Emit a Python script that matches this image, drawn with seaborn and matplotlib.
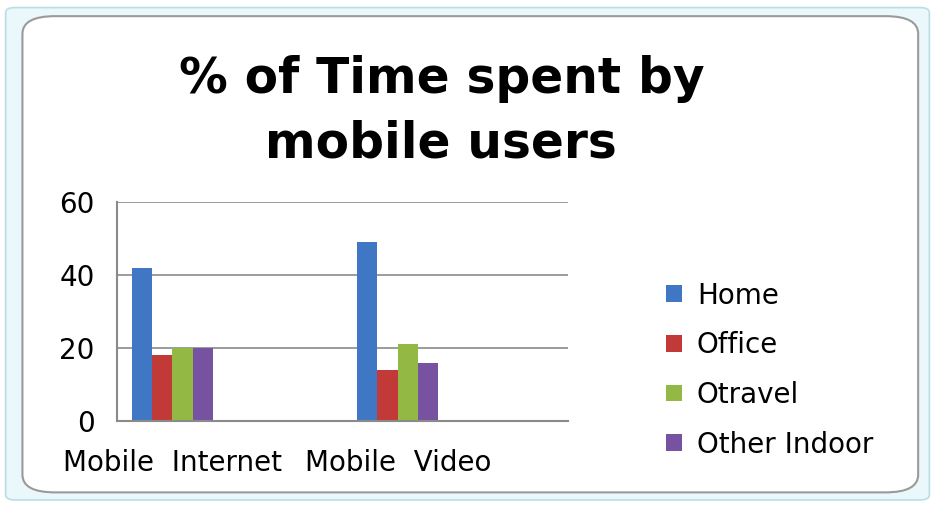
import matplotlib
matplotlib.use("Agg")
import matplotlib.pyplot as plt
import seaborn as sns
import pandas as pd
from matplotlib.patches import FancyBboxPatch

categories = ["Mobile  Internet", "Mobile  Video"]
series = ["Home", "Office", "Otravel", "Other Indoor"]
home = [42, 49]
office = [18, 14]
otravel = [20, 21]
other_indoor = [20, 16]
colors = ["#3f77c4", "#c23a37", "#93b944", "#7752a0"]
y_ticks = [0, 20, 40, 60]

rows = []
for s, vals in zip(series, [home, office, otravel, other_indoor]):
    for c, v in zip(categories, vals):
        rows.append({"Category": c, "Series": s, "Value": v})
df = pd.DataFrame(rows)

sns.set_style("white")
plt.rcParams["font.family"] = ["DejaVu Sans"]
plt.rcParams["text.color"] = "black"

fig = plt.figure(figsize=(9.35, 5.05), dpi=100)

# frame decorations
outer = FancyBboxPatch((0.006, 0.01), 0.988, 0.975, boxstyle="round,pad=0,rounding_size=0.01",
                       transform=fig.transFigure, facecolor="#eaf8fb", edgecolor="#b9dfe6",
                       linewidth=1.2, zorder=-10)
inner = FancyBboxPatch((0.024, 0.025), 0.958, 0.943, boxstyle="round,pad=0,rounding_size=0.035",
                       transform=fig.transFigure, facecolor="white", edgecolor="#9a9a9a",
                       linewidth=1.5, zorder=-9)
fig.patches.extend([outer, inner])

ax = fig.add_axes([0.1251, 0.1663, 0.4824, 0.4337])
ax.set_facecolor("none")
sns.barplot(data=df, x="Category", y="Value", hue="Series", hue_order=series,
            palette=colors, width=0.36, ax=ax, saturation=1, edgecolor="none")

ax.set_ylim(0, 60)
ax.set_yticks(y_ticks)
ax.set_xlim(-0.245, 1.755)
ax.yaxis.grid(True, color="#8a8a8a", linewidth=1.2)
ax.set_axisbelow(True)
for side in ["top", "right"]:
    ax.spines[side].set_visible(False)
for side in ["left", "bottom"]:
    ax.spines[side].set_color("#8a8a8a")
    ax.spines[side].set_linewidth(1.5)
ax.tick_params(axis="both", length=0, labelsize=20, colors="black")
ax.tick_params(axis="y", pad=16)
ax.tick_params(axis="x", pad=20)
ax.set_xlabel("")
ax.set_ylabel("")

leg = ax.get_legend()
handles = leg.legend_handles
leg.remove()
fig.legend(handles, series, loc="upper left", bbox_to_anchor=(0.686, 0.492),
           frameon=False, fontsize=20, handlelength=0.55, handleheight=0.55,
           handletextpad=0.55, labelspacing=0.78)

fig.text(0.472, 0.843, "% of Time spent by", ha="center", va="center",
         fontsize=35, fontweight="bold", color="black")
fig.text(0.472, 0.716, "mobile users", ha="center", va="center",
         fontsize=35, fontweight="bold", color="black")

fig.savefig("out.png", dpi=100)
